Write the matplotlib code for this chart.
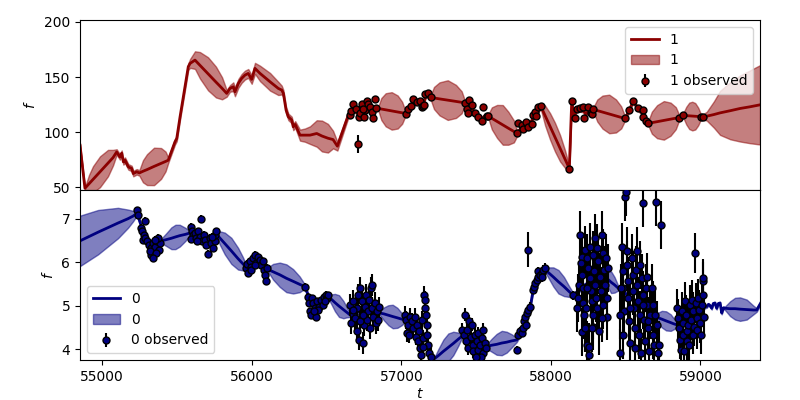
import numpy as np
import matplotlib
matplotlib.use("Agg")
import matplotlib.pyplot as plt

# ---- band "1" (top panel): model knots, value and half-width of the band
top_t = [54851, 54884, 54911, 54938, 54985, 55038, 55072, 55096, 55118, 55130,
         55141, 55152, 55174, 55197, 55207, 55230, 55248, 55272, 55299, 55346,
         55393, 55423, 55441, 55486, 55498, 55520, 55553, 55575, 55587, 55620,
         55653, 55707, 55760, 55801, 55832, 55854, 55876, 55887, 55910, 55932,
         55954, 55976, 55999, 56021, 56055, 56122, 56177, 56200, 56211, 56229,
         56244, 56267, 56277, 56290, 56322, 56355, 56389, 56434, 56469, 56509,
         56543, 56572, 56645, 56680, 56720, 56760, 56800, 56846, 56866, 56895,
         56935, 56975, 57005, 57028, 57046, 57064, 57080, 57102, 57125, 57147,
         57160, 57180, 57196, 57218, 57255, 57310, 57365, 57403, 57425, 57448,
         57470, 57492, 57515, 57537, 57560, 57582, 57605, 57640, 57678, 57715,
         57752, 57775, 57800, 57830, 57860, 57882, 57900, 57932, 57961, 57994,
         58027, 58061, 58094, 58123, 58139, 58154, 58174, 58215, 58235, 58255,
         58284, 58310, 58345, 58390, 58435, 58470, 58495, 58524, 58550, 58580,
         58613, 58651, 58675, 58710, 58755, 58800, 58835, 58859, 58885, 58905,
         58925, 58945, 58965, 58985, 59004, 59019, 59042, 59090, 59131, 59200,
         59265, 59330, 59398]
top_f = [88.2, 49.1, 53.1, 57.1, 64.1, 71.9, 76.9, 82.0, 77.5, 80.9,
         73.0, 74.6, 68.5, 67.0, 62.4, 64.0, 63.0, 64.5, 66.0, 68.9,
         71.6, 73.4, 74.5, 91.2, 94.3, 113.9, 141.2, 159.4, 162.4, 165.4,
         160.7, 153.0, 145.5, 139.8, 135.2, 139.7, 141.2, 136.6, 144.3, 148.8,
         151.8, 153.3, 147.9, 157.9, 153.3, 145.7, 139.7, 138.2, 135.2, 120.0,
         113.9, 111.0, 104.8, 107.0, 97.3, 97.3, 97.3, 98.8, 96.5, 94.5,
         93.3, 87.3, 115.5, 120.0, 117.0, 121.0, 121.0, 121.5, 121.0, 120.3,
         119.3, 118.3, 117.6, 117.0, 120.6, 123.6, 128.0, 127.5, 126.0, 125.0,
         132.0, 134.5, 131.5, 131.0, 130.2, 129.1, 127.9, 127.1, 126.6, 122.0,
         122.0, 117.0, 114.0, 112.0, 115.0, 114.4, 112.5, 109.7, 106.6, 103.6,
         100.7, 98.8, 104.0, 105.0, 108.0, 113.0, 117.0, 123.6, 115.1, 105.3,
         95.5, 85.4, 75.6, 67.0, 128.0, 114.0, 121.0, 120.0, 116.0, 121.0,
         120.6, 119.6, 118.2, 116.5, 114.7, 113.4, 112.4, 120.0, 128.2, 121.5,
         117.0, 108.0, 108.6, 109.5, 110.7, 111.8, 112.7, 113.3, 115.2, 115.0,
         114.8, 114.6, 114.4, 114.2, 114.0, 113.9, 114.5, 116.0, 117.5, 119.5,
         121.5, 123.0, 124.8]
top_hw = [1, 1, 8, 12, 14, 12, 7, 2.5, 2.5, 2.5,
          2.5, 2.5, 2.5, 2.5, 2.5, 2.5, 2.5, 10, 14, 17,
          14, 9, 2.5, 2.5, 2.5, 2.5, 3, 3, 4, 8,
          12, 15, 14, 10, 3, 3, 4, 4, 4, 4,
          4, 4, 4, 5, 7, 8, 6, 4, 3, 3,
          3, 3, 3, 3, 5, 6, 8, 12, 14, 13,
          8, 4, 2.5, 2, 2, 2, 2, 2, 10, 15,
          17, 15, 10, 2, 2, 2, 2, 2, 2, 2,
          2, 2, 2, 10, 15, 18, 15, 10, 2, 2,
          2, 2, 2, 2, 2, 2, 10, 15, 18, 15,
          10, 2, 2, 2, 2, 2, 2, 2.5, 9, 12,
          13, 12, 8, 2, 2, 2, 2, 2, 2, 2,
          2, 10, 15, 17.5, 15, 10, 2, 2, 2, 2,
          2, 2, 10, 15, 17.5, 15, 10, 2, 2, 8,
          12, 13, 12, 8, 2, 2.5, 4, 12, 20, 26,
          30, 33, 36]

# ---- observations "1", grouped by season, one error value per season
obs1_t = [[56656, 56663, 56679, 56697, 56719, 56723, 56737, 56750, 56757, 56768,
           56779, 56790, 56801, 56812, 56825, 56830, 56742],
          [56712],
          [57031, 57046, 57064, 57080, 57102, 57125, 57136, 57147, 57152, 57158,
           57180, 57196],
          [57425, 57437, 57448, 57454, 57470, 57492, 57515, 57537, 57548, 57571, 57582],
          [57775, 57782, 57805, 57815, 57833, 57849, 57871, 57882, 57894, 57900,
           57916, 57932],
          [58123],
          [58139, 58161, 58172, 58195, 58213, 58221, 58250, 58266, 58273, 58284],
          [58495, 58524, 58550, 58580, 58613, 58613, 58635, 58651],
          [58859, 58885, 59004, 59019]]
obs1_f = [[115.5, 119.3, 125.4, 120.6, 113.9, 117.5, 125.4, 113.9, 120.0, 128.4,
           126.0, 122.4, 118.4, 113.3, 129.7, 121.5, 121.0],
          [89.1],
          [116.1, 120.6, 123.6, 129.7, 127.5, 128.4, 122.4, 123.6, 124.5, 134.5,
           135.7, 131.5],
          [126.6, 120.6, 117.0, 129.0, 124.5, 117.0, 113.9, 110.3, 122.4, 114.4, 114.4],
          [98.8, 107.9, 106.4, 103.3, 109.4, 104.3, 107.0, 115.5, 118.4, 115.0,
           122.4, 123.6],
          [67.0],
          [128.5, 112.4, 120.6, 121.5, 122.4, 112.4, 122.4, 117.5, 116.1, 120.6],
          [112.4, 120.0, 128.2, 121.5, 120.0, 113.9, 110.3, 107.9],
          [113.3, 115.2, 114.0, 113.9]]
obs1_err = [2.0, 8.0, 2.0, 2.5, 2.0, 2.0, 2.0, 2.0, 2.0]

# ---- band "0" (bottom panel)
bot_t = [54851, 54972, 55105, 55172, 55206, 55233, 55250, 55273, 55306, 55351,
         55395, 55429, 55462, 55489, 55518, 55556, 55585, 55618, 55663, 55707,
         55741, 55763, 55785, 55819, 55863, 55908, 55941, 55964, 55997, 56042,
         56075, 56109, 56142, 56187, 56231, 56276, 56320, 56354, 56389, 56422,
         56467, 56512, 56534, 56556, 56583, 56612, 56634, 56656, 56723, 56790,
         56857, 56884, 56913, 56942, 56973, 57002, 57024, 57080, 57136, 57169,
         57203, 57225, 57247, 57281, 57314, 57347, 57381, 57403, 57459, 57515,
         57570, 57604, 57637, 57671, 57704, 57738, 57771, 57816, 57860, 57882,
         57927, 57960, 57983, 58016, 58050, 58087, 58123, 58150, 58217, 58284,
         58355, 58380, 58402, 58425, 58451, 58529, 58596, 58663, 58696, 58718,
         58741, 58770, 58801, 58823, 58841, 58908, 58975, 59030, 59042, 59053,
         59064, 59075, 59086, 59097, 59108, 59120, 59131, 59142, 59153, 59164,
         59198, 59231, 59264, 59309, 59354, 59376, 59409]
bot_f = [6.49, 6.69, 6.90, 7.00, 7.06, 7.13, 6.94, 6.71, 6.49, 6.44,
         6.49, 6.52, 6.55, 6.58, 6.61, 6.64, 6.67, 6.65, 6.56, 6.44,
         6.48, 6.65, 6.56, 6.43, 6.26, 6.08, 5.96, 5.87, 5.96, 6.02,
         5.94, 5.83, 5.78, 5.71, 5.63, 5.56, 5.49, 5.44, 5.13, 5.02,
         5.13, 5.21, 5.14, 5.07, 4.99, 4.91, 4.85, 4.79, 4.87, 4.87,
         4.83, 4.81, 4.78, 4.75, 4.72, 4.69, 4.67, 4.56, 4.41, 4.21,
         3.87, 3.79, 3.85, 3.95, 4.04, 4.13, 4.23, 4.29, 4.18, 4.10,
         4.06, 4.09, 4.11, 4.14, 4.16, 4.19, 4.21, 4.48, 4.94, 5.37,
         5.70, 5.83, 5.76, 5.66, 5.55, 5.44, 5.32, 5.24, 5.45, 5.60,
         5.68, 5.61, 5.54, 5.48, 5.40, 5.20, 5.00, 4.85, 4.75, 4.72,
         4.69, 4.65, 4.61, 4.58, 4.56, 4.60, 4.75, 4.98, 4.98, 5.03,
         5.00, 4.94, 5.05, 5.06, 4.94, 5.05, 5.06, 4.83, 4.95, 4.94,
         4.93, 4.93, 4.92, 4.91, 4.90, 4.90, 5.10]
bot_hw = [0.58, 0.51, 0.35, 0.21, 0.12, 0.05, 0.05, 0.05, 0.05, 0.05,
          0.05, 0.15, 0.25, 0.28, 0.25, 0.15, 0.05, 0.05, 0.05, 0.05,
          0.05, 0.05, 0.15, 0.25, 0.30, 0.25, 0.15, 0.05, 0.05, 0.05,
          0.05, 0.05, 0.18, 0.28, 0.32, 0.28, 0.18, 0.05, 0.05, 0.05,
          0.05, 0.05, 0.12, 0.20, 0.25, 0.20, 0.12, 0.05, 0.05, 0.05,
          0.05, 0.15, 0.23, 0.27, 0.23, 0.14, 0.05, 0.05, 0.05, 0.05,
          0.05, 0.05, 0.15, 0.27, 0.32, 0.27, 0.15, 0.05, 0.05, 0.05,
          0.05, 0.15, 0.24, 0.28, 0.24, 0.15, 0.05, 0.05, 0.05, 0.05,
          0.05, 0.05, 0.12, 0.22, 0.27, 0.22, 0.12, 0.05, 0.05, 0.05,
          0.05, 0.18, 0.25, 0.18, 0.05, 0.05, 0.05, 0.05, 0.05, 0.12,
          0.19, 0.22, 0.19, 0.12, 0.05, 0.05, 0.05, 0.04, 0.03, 0.03,
          0.03, 0.03, 0.03, 0.03, 0.03, 0.03, 0.03, 0.03, 0.03, 0.04,
          0.17, 0.25, 0.27, 0.23, 0.10, 0.04, 0.04]

# ---- observations "0", grouped by season
obs0_t = [[55235, 55239, 55284, 55257, 55266, 55277, 55273, 55288, 55299, 55311,
           55324, 55328, 55340, 55346, 55355, 55368, 55377, 55384, 55373, 55351,
           55317, 55362, 55340],
          [55596, 55600, 55607, 55596, 55618, 55629, 55640, 55652, 55658, 55667,
           55681, 55690, 55696, 55707, 55718, 55730, 55741, 55752, 55756, 55763,
           55734, 55636],
          [55964, 55975, 55970, 55986, 55997, 56008, 56019, 56030, 56042, 56053,
           56064, 56075, 56082, 56091, 56097, 56104, 55993, 56019],
          [56354, 56376, 56383, 56392, 56398, 56400, 56411, 56422, 56429, 56438,
           56451, 56460, 56474, 56483, 56496, 56505, 56512, 56445, 56489, 56416],
          [56656, 56661, 56674, 56679, 56690, 56701, 56712, 56719, 56723, 56734,
           56734, 56746, 56750, 56757, 56763, 56768, 56779, 56786, 56790, 56797,
           56801, 56813, 56824, 56830, 56839, 56846, 56853, 56723, 56701, 56746,
           56801, 56679],
          [57024, 57031, 57035, 57047, 57053, 57058, 57069, 57080, 57091, 57098,
           57102, 57113, 57120, 57125, 57136, 57142, 57151, 57158, 57158, 57165,
           57169, 57174, 57180, 57187, 57196, 57147, 57129],
          [57403, 57425, 57419, 57432, 57437, 57448, 57455, 57463, 57470, 57477,
           57481, 57492, 57504, 57510, 57515, 57526, 57537, 57544, 57548, 57559,
           57566, 57530, 57499],
          [57775, 57782, 57793, 57804, 57816, 57820, 57827, 57833, 57838, 57849,
           57860, 57878, 57887, 57894, 57905, 57911, 57916, 57927, 57938, 57949,
           57960, 57938, 58150],
          [57849],
          [58194, 58206, 58199, 58190, 58172, 58183, 58206, 58212, 58217, 58221,
           58206, 58228, 58239, 58257, 58257, 58228, 58239, 58250, 58261, 58261,
           58266, 58272, 58279, 58284, 58288, 58295, 58301, 58306, 58310, 58317,
           58324, 58328, 58333, 58339, 58346, 58351, 58355, 58362, 58368, 58373,
           58377, 58384, 58244, 58279, 58235, 58339, 58295, 58272],
          [58462, 58473, 58480, 58484, 58489, 58495, 58502, 58507, 58511, 58518,
           58518, 58524, 58529, 58540, 58547, 58551, 58556, 58562, 58569, 58573,
           58578, 58585, 58591, 58596, 58600, 58607, 58618, 58618, 58622, 58629,
           58636, 58640, 58645, 58651, 58658, 58663, 58674, 58680, 58685, 58689,
           58703, 58712, 58718, 58725, 58734, 58696, 58462, 58469, 58484, 58529,
           58562, 58596, 58613, 58651],
          [58845, 58852, 58859, 58863, 58868, 58874, 58881, 58886, 58890, 58897,
           58903, 58908, 58912, 58919, 58926, 58930, 58935, 58941, 58948, 58952,
           58957, 58964, 58970, 58975, 58979, 58986, 58992, 58997, 59001, 59008,
           59015, 59019, 59024, 59019]]
obs0_f = [[7.19, 7.08, 6.95, 6.79, 6.71, 6.63, 6.52, 6.56, 6.48, 6.40,
           6.33, 6.17, 6.44, 6.25, 6.36, 6.48, 6.29, 6.44, 6.56, 6.52,
           6.25, 6.21, 6.10],
          [6.82, 6.72, 6.63, 6.54, 6.67, 6.56, 6.71, 6.59, 7.00, 6.48,
           6.63, 6.52, 6.40, 6.19, 6.56, 6.44, 6.33, 6.48, 6.63, 6.71,
           6.59, 6.48],
          [5.87, 5.75, 5.96, 6.02, 5.90, 6.10, 6.17, 5.98, 6.13, 6.06,
           5.94, 6.02, 5.83, 5.71, 5.56, 5.87, 5.83, 5.93],
          [5.44, 5.21, 5.06, 4.87, 4.79, 5.17, 5.06, 4.94, 4.75, 5.10,
           4.98, 5.13, 5.02, 5.21, 5.25, 5.17, 5.24, 4.91, 5.10, 4.87],
          [5.02, 4.60, 4.81, 5.10, 4.71, 4.94, 5.25, 4.22, 5.40, 5.10,
           4.79, 4.14, 4.56, 4.98, 5.25, 4.67, 4.87, 5.14, 4.48, 5.40,
           4.94, 4.75, 5.06, 4.60, 4.87, 4.67, 4.96, 4.64, 4.41, 4.79,
           5.48, 4.91],
          [4.79, 4.67, 4.37, 4.56, 4.33, 4.75, 4.64, 4.48, 4.75, 4.29,
           4.56, 4.18, 4.41, 4.02, 4.67, 4.25, 5.25, 5.13, 4.94, 4.79,
           4.56, 4.33, 4.10, 3.91, 3.83, 4.06, 3.87],
          [4.45, 4.79, 4.33, 4.18, 4.45, 4.02, 4.64, 4.29, 4.56, 4.10,
           3.95, 4.33, 4.18, 3.98, 4.37, 4.10, 4.25, 4.45, 3.91, 4.14,
           4.02, 3.83, 3.83],
          [3.98, 4.33, 4.41, 4.37, 4.48, 4.64, 4.75, 4.56, 4.83, 4.91,
           4.98, 5.37, 5.44, 5.52, 5.60, 5.67, 5.79, 5.71, 5.75, 5.83,
           5.87, 5.65, 5.24],
          [6.29],
          [6.63, 6.13, 5.98, 5.48, 4.94, 5.17, 5.71, 5.40, 5.06, 4.79,
           4.39, 4.48, 4.10, 4.04, 3.87, 6.29, 6.10, 5.86, 6.36, 5.63,
           5.33, 5.10, 6.17, 4.79, 5.79, 5.48, 5.17, 6.33, 4.94, 6.02,
           4.42, 5.67, 5.33, 6.63, 6.21, 5.02, 5.83, 5.48, 6.10, 5.17,
           4.75, 5.86, 5.40, 4.52, 4.94, 4.71, 6.56, 4.48],
          [3.91, 6.36, 5.79, 5.40, 4.87, 7.49, 7.61, 6.25, 5.94, 5.56,
           5.17, 4.64, 4.14, 6.10, 5.71, 5.33, 4.94, 4.48, 5.83, 6.25,
           5.48, 5.10, 4.33, 4.79, 3.91, 5.63, 7.36, 5.25, 4.67, 4.18,
           5.40, 5.67, 5.02, 4.48, 3.95, 4.79, 5.40, 4.33, 5.02, 4.10,
           7.38, 4.56, 3.91, 4.10, 6.86, 4.79, 4.79, 5.40, 4.33, 4.94,
           4.02, 5.94, 5.02, 4.64],
          [4.94, 4.71, 4.48, 4.22, 3.98, 4.87, 4.33, 4.60, 3.96, 5.10,
           4.79, 4.41, 4.18, 4.56, 4.10, 5.02, 4.67, 5.13, 4.33, 4.87,
           4.52, 6.21, 5.06, 4.71, 4.45, 5.17, 4.91, 4.60, 4.33, 5.02,
           5.56, 5.63, 4.75, 5.25]]
obs0_err = [0.08, 0.08, 0.08, 0.08, 0.25, 0.2, 0.15, 0.1, 0.4, 0.55, 0.55, 0.45]

XLIM = (54851, 59398)


def draw_band(ax, t, f, hw, obs_t, obs_f, obs_err, color, name, legend_loc):
    t = np.asarray(t, float)
    f = np.asarray(f, float)
    hw = np.asarray(hw, float)
    ax.plot(t, f, color=color, lw=2, label=name, zorder=2)
    ax.fill_between(t, f - hw, f + hw, color=color, alpha=0.5,
                    label=name, zorder=1)
    ot = np.concatenate([np.asarray(s, float) for s in obs_t])
    of = np.concatenate([np.asarray(s, float) for s in obs_f])
    oe = np.concatenate([np.full(len(s), e) for s, e in zip(obs_t, obs_err)])
    ax.errorbar(ot, of, yerr=oe, fmt="o", ms=5, mfc=color, mec="k",
                mew=1, ecolor="k", elinewidth=1.5,
                label=f"{name} observed", zorder=3)
    ax.set_ylabel("$f$")
    ax.legend(loc=legend_loc)


fig, (ax1, ax0) = plt.subplots(2, 1, sharex=True, figsize=(8, 4), dpi=100)
fig.subplots_adjust(left=0.1, right=0.95, top=0.95, bottom=0.1, hspace=0)

draw_band(ax1, top_t, top_f, top_hw, obs1_t, obs1_f, obs1_err,
          "darkred", "1", "upper right")
draw_band(ax0, bot_t, bot_f, bot_hw, obs0_t, obs0_f, obs0_err,
          "navy", "0", "lower left")

ax1.set_ylim(47.5, 201.8)
ax1.set_yticks([50, 100, 150, 200])
ax0.set_ylim(3.75, 7.66)
ax0.set_yticks([4, 5, 6, 7])
ax0.set_xlim(*XLIM)
ax0.set_xticks([55000, 56000, 57000, 58000, 59000])
ax0.set_xlabel("$t$", labelpad=2)

fig.savefig("out.png", dpi=100)
